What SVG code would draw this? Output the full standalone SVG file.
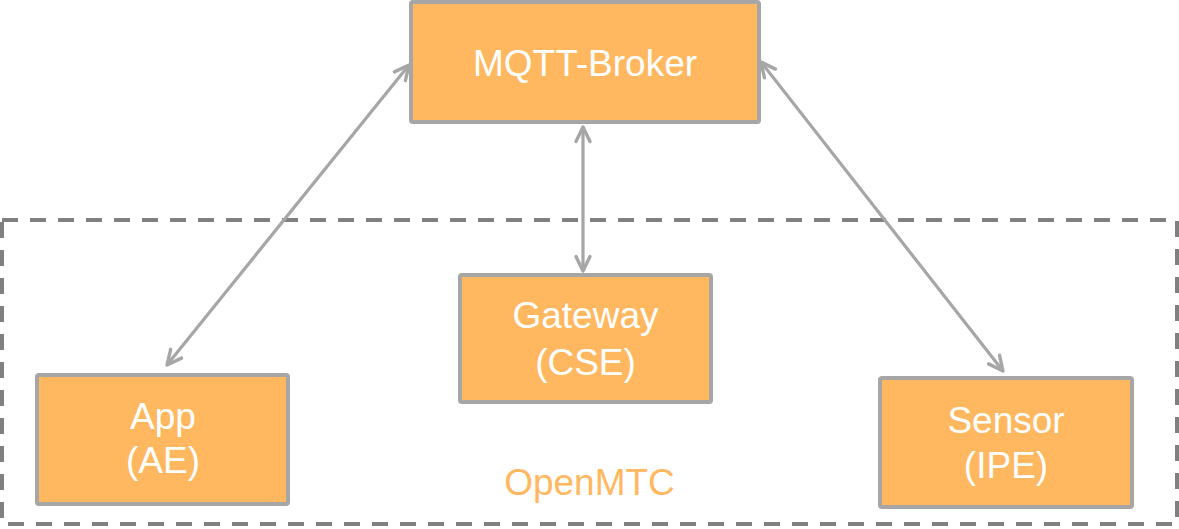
<svg xmlns="http://www.w3.org/2000/svg" width="1179" height="529" viewBox="0 0 1179 529">
  <style>
    .node rect { fill: #FFB85F; stroke: #A6A6A6; stroke-width: 4; }
    .node text { fill: #FFFFFF; font-family: "Liberation Sans", Arial, sans-serif; font-size: 37px; text-anchor: middle; }
    .conn line { stroke: #A6A6A6; stroke-width: 3.2; fill: none; marker-start: url(#chev); marker-end: url(#chev); }
    .group rect { fill: none; stroke: #808080; stroke-width: 4; stroke-dasharray: 16 12; }
    .group text { fill: #FFB85F; font-family: "Liberation Sans", Arial, sans-serif; font-size: 37px; text-anchor: middle; }
  </style>
  <defs>
    <marker id="chev" viewBox="-18 -10 22 20" refX="0" refY="0" markerWidth="22" markerHeight="20" markerUnits="userSpaceOnUse" orient="auto-start-reverse">
      <path d="M-14.5,-7 L0,0 L-14.5,7" fill="none" stroke="#A6A6A6" stroke-width="3.4" stroke-linecap="round" stroke-linejoin="round"/>
    </marker>
  </defs>
  <rect width="1179" height="529" fill="#FFFFFF"/>
  <g id="openmtc" class="group">
    <rect x="2" y="220" width="1175" height="304"/>
    <text x="589.5" y="495">OpenMTC</text>
  </g>
  <g id="connectors" class="conn">
    <line x1="167" y1="365" x2="409" y2="65"/>
    <line x1="583" y1="127" x2="583" y2="271"/>
    <line x1="1003" y1="371" x2="761" y2="62"/>
  </g>
  <g id="broker" class="node">
    <rect x="411" y="2" width="348" height="120" rx="2"/>
    <text x="585" y="76">MQTT-Broker</text>
  </g>
  <g id="gateway" class="node">
    <rect x="460" y="275" width="251" height="127" rx="2"/>
    <text x="585.5" y="328">Gateway</text>
    <text x="585.5" y="375">(CSE)</text>
  </g>
  <g id="app" class="node">
    <rect x="37" y="375" width="251" height="129" rx="2"/>
    <text x="163" y="429">App</text>
    <text x="163" y="473">(AE)</text>
  </g>
  <g id="sensor" class="node">
    <rect x="880" y="378" width="252" height="129" rx="2"/>
    <text x="1006" y="433">Sensor</text>
    <text x="1006" y="478">(IPE)</text>
  </g>
</svg>
